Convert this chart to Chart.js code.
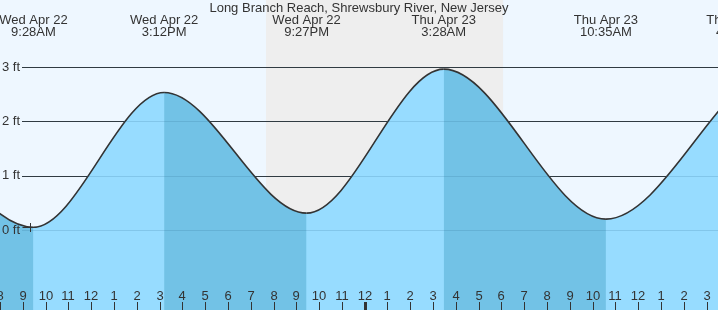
<!DOCTYPE html>
<html lang="en">
<head>
  <meta charset="UTF-8" />
  <title>Long Branch Reach tide chart</title>
  <script src="https://cdn.jsdelivr.net/npm/chart.js"></script>
  <style>
    body { margin: 0; background: #eef7ff; }
    #wrap { position: relative; width: 718px; height: 310px; }
  </style>
</head>
<body>
<div id="wrap"><canvas id="tide"></canvas></div>

<script>
// tide extremes, hours from Wed 00:00 (values in ft)
const tideHours  = [3.2, 9.467, 15.2, 21.45, 27.467, 34.583, 40.4];
const tideFeet   = [2.6, 0.05, 2.53, 0.31, 2.96, 0.20, 2.6];
const extremeDay  = ["", "Wed Apr 22", "Wed Apr 22", "Wed Apr 22", "Thu Apr 23", "Thu Apr 23", "Thu Apr 23"];
const extremeTime = ["", "9:28AM", "3:12PM", "9:27PM", "3:28AM", "10:35AM", "4:24PM"];

// night shading (sunset Wed, sunrise Thu)
const nightStart = 19.67;
const nightEnd = 30.07;

// bottom axis hours
const hourValues = [8, 9, 10, 11, 12, 13, 14, 15, 16, 17, 18, 19, 20, 21, 22, 23, 24,
                    25, 26, 27, 28, 29, 30, 31, 32, 33, 34, 35, 36, 37, 38, 39];
const hourLabels = ["8", "9", "10", "11", "12", "1", "2", "3", "4", "5", "6", "7", "8", "9", "10", "11", "12",
                    "1", "2", "3", "4", "5", "6", "7", "8", "9", "10", "11", "12", "1", "2", "3"];
const ftLevels = [3, 2, 1, 0];
const nowMark = { hour: 9.32, ft: 0.055 };

const title = "Long Branch Reach, Shrewsbury River, New Jersey";
const TEXT = "#333";
const FONT = "13px 'Liberation Sans', Arial, sans-serif";
const RISE = "#97dcff";
const FALL = "#72c2e6";

const perFt = 163 / 3;
const yMax = 230 / perFt;
const yMin = yMax - 310 / perFt;

const tidePlugin = {
  id: "tide",
  beforeDatasetsDraw(chart) {
    const { ctx, chartArea: a, scales: { x, y } } = chart;
    ctx.save();
    // night
    ctx.fillStyle = "#eeeeee";
    const n0 = x.getPixelForValue(nightStart), n1 = x.getPixelForValue(nightEnd);
    ctx.fillRect(n0, a.top, n1 - n0, a.bottom - a.top);
    // grid lines
    ctx.strokeStyle = TEXT;
    ctx.lineWidth = 1;
    ftLevels.forEach(f => {
      const py = Math.round(y.getPixelForValue(f)) + 0.5;
      ctx.beginPath(); ctx.moveTo(22, py); ctx.lineTo(a.right, py); ctx.stroke();
    });
    ctx.restore();
  },
  afterDatasetsDraw(chart) {
    const { ctx, chartArea: a, scales: { x, y } } = chart;
    ctx.save();
    // faint lines under water
    ctx.strokeStyle = "rgba(40,100,140,0.18)";
    ctx.lineWidth = 1;
    ftLevels.forEach(f => {
      const py = Math.round(y.getPixelForValue(f)) + 0.5;
      ctx.beginPath(); ctx.moveTo(22, py); ctx.lineTo(a.right, py); ctx.stroke();
    });

    ctx.fillStyle = TEXT;
    ctx.font = FONT;
    // y labels
    ctx.textAlign = "left";
    ctx.textBaseline = "middle";
    ftLevels.forEach(f => ctx.fillText(f + " ft", 2, y.getPixelForValue(f)));

    // title
    ctx.textAlign = "center";
    ctx.fillText(title, 359, 8);

    // extreme labels at top
    tideHours.forEach((h, i) => {
      if (!extremeDay[i]) return;
      const px = x.getPixelForValue(h);
      ctx.fillText(extremeDay[i], px, 20);
      ctx.fillText(extremeTime[i], px, 32);
    });

    // hour labels and ticks
    ctx.strokeStyle = TEXT;
    hourValues.forEach((h, i) => {
      const px = Math.round(x.getPixelForValue(h));
      ctx.fillText(hourLabels[i], px, 296);
      ctx.lineWidth = h === 24 ? 3 : 1;
      ctx.beginPath(); ctx.moveTo(px + 0.5, 302); ctx.lineTo(px + 0.5, a.bottom); ctx.stroke();
    });

    // current time marker
    ctx.lineWidth = 1;
    const cx = Math.round(x.getPixelForValue(nowMark.hour)) + 0.5;
    const cy = Math.round(y.getPixelForValue(nowMark.ft)) + 0.5;
    ctx.beginPath();
    ctx.moveTo(cx - 8, cy); ctx.lineTo(cx + 6, cy);
    ctx.moveTo(cx, cy - 4.5); ctx.lineTo(cx, cy + 4.5);
    ctx.stroke();
    ctx.restore();
  }
};

const tidePoints = tideHours.map((h, i) => ({ x: h, y: tideFeet[i] }));

new Chart(document.getElementById("tide"), {
  type: "line",
  data: {
    datasets: [{
      // rising / falling water with the curve
      data: tidePoints,
      borderColor: TEXT,
      borderWidth: 1.6,
      pointRadius: 0,
      cubicInterpolationMode: "monotone",
      fill: "start",
      backgroundColor: RISE,
      segment: {
        backgroundColor: c => c.p1.parsed.y < c.p0.parsed.y ? FALL : RISE
      },
      order: 0
    }, {
      // plain underlay so segment seams don't show
      data: tidePoints,
      borderWidth: 0,
      borderColor: "rgba(0,0,0,0)",
      pointRadius: 0,
      cubicInterpolationMode: "monotone",
      fill: "start",
      backgroundColor: RISE,
      order: 1
    }]
  },
  options: {
    responsive: true,
    maintainAspectRatio: false,
    animation: false,
    layout: { padding: 0 },
    plugins: { legend: { display: false }, tooltip: { enabled: false } },
    scales: {
      x: { type: "linear", min: 8, max: 39.5, display: false },
      y: { min: yMin, max: yMax, display: false }
    }
  },
  plugins: [tidePlugin]
});
</script>
</body>
</html>
